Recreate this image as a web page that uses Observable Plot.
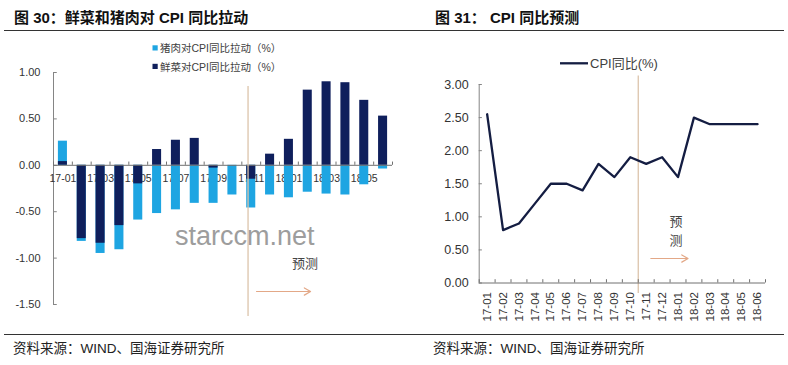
<!DOCTYPE html>
<html><head><meta charset="utf-8">
<script src="https://cdn.jsdelivr.net/npm/d3@7"></script>
<script src="https://cdn.jsdelivr.net/npm/@observablehq/plot@0.6"></script>
<style>
body{margin:0;background:#fff;}
#wrap{position:relative;width:788px;height:365px;overflow:hidden;background:#fff;font-family:"Liberation Sans","Noto Sans CJK SC",sans-serif;}
.abs{position:absolute;left:0;top:0;}
</style></head><body>
<div id="wrap"></div>
<script>
// ---- data ----
const months = ["17-01","17-02","17-03","17-04","17-05","17-06","17-07","17-08","17-09","17-10","17-11","17-12","18-01","18-02","18-03","18-04","18-05","18-06"];
const porkPull = [0.26,-0.82,-0.95,-0.91,-0.59,-0.52,-0.48,-0.41,-0.41,-0.32,-0.46,-0.32,-0.35,-0.29,-0.31,-0.32,-0.21,-0.04];
const vegPull  = [0.04,-0.79,-0.84,-0.65,-0.20,0.17,0.27,0.29,-0.03,0.00,-0.15,0.12,0.28,0.81,0.90,0.89,0.70,0.53];
const cpiYoY   = [2.55,0.8,0.9,1.2,1.5,1.5,1.4,1.8,1.6,1.9,1.8,1.9,1.6,2.5,2.4,2.4,2.4,2.4];
const yTicksLeft  = [1, 0.5, 0, -0.5, -1, -1.5];
const yTicksRight = [0, 0.5, 1, 1.5, 2, 2.5, 3];
const leftLabelMonths = ["17-01","17-03","17-05","17-07","17-09","17-11","18-01","18-03","18-05"];
const titleLeft = "图 30：鲜菜和猪肉对 CPI 同比拉动";
const titleRight = "图 31： CPI 同比预测";
const legendPork = "猪肉对CPI同比拉动（%）";
const legendVeg = "鲜菜对CPI同比拉动（%）";
const legendCpi = "CPI同比(%)";
const forecastLabel = "预测";
const sourceText = "资料来源：WIND、国海证券研究所";
const watermark = "starccm.net";

// ---- styles ----
const LIGHT = "#1ea5e2", NAVY = "#0f1f5c", LINE = "#141d42";
const AXIS = "#858585", RULE = "#dcc4ab", ARROW = "#e3a887";
const FONT = "'Liberation Sans','Noto Sans CJK SC',sans-serif";

const barData = months.map((m, i) => ({i, m, pork: porkPull[i], veg: vegPull[i]}));
const idx = months.map((m, i) => i);
const bounds = d3.range(months.length + 1).map(i => i - 0.5);
const wrap = document.getElementById("wrap");

// ---- left chart ----
const left = Plot.plot({
  width: 400, height: 330,
  marginLeft: 53, marginRight: 8, marginTop: 72, marginBottom: 26,
  x: {type: "linear", domain: [-0.5, 17.5], axis: null},
  y: {domain: [-1.5, 1], axis: null},
  style: {fontFamily: FONT, background: "transparent", overflow: "visible"},
  marks: [
    Plot.ruleX([-0.5], {y1: -1.5, y2: 1, stroke: AXIS}),
    Plot.ruleY(yTicksLeft, {x1: -0.5, x2: -0.3, stroke: AXIS}),
    Plot.axisY(yTicksLeft, {tickSize: 0, tickPadding: 13, tickFormat: d => d.toFixed(2), fontSize: 11, fill: "#333"}),
    Plot.text(leftLabelMonths, {x: d => months.indexOf(d), y: 0, text: d => d, dy: 13.5, fontSize: 10.5, fill: "#333"}),
    Plot.rect(barData, {x1: d => d.i - 0.24, x2: d => d.i + 0.24, y1: 0, y2: "pork", fill: LIGHT}),
    Plot.rect(barData, {x1: d => d.i - 0.24, x2: d => d.i + 0.24, y1: 0, y2: "veg", fill: NAVY}),
    Plot.ruleY([0], {stroke: "#707070"}),
    Plot.ruleX(bounds, {y1: 0, y2: 0.035, stroke: "#707070"}),
    Plot.ruleX([9.83], {y1: -1.63, y2: 0.85, stroke: RULE, strokeWidth: 1.3}),
    Plot.arrow([0], {x1: 10.28, y1: -1.36, x2: 13.15, y2: -1.36, stroke: ARROW, strokeWidth: 1.2, headLength: 9}),
    Plot.text([forecastLabel], {x: 12.85, y: -1.06, text: d => d, fontSize: 13, fill: "#444"})
  ]
});
left.classList.add("abs");
left.style.left = "0px";
wrap.appendChild(left);

// ---- right chart ----
const right = Plot.plot({
  width: 388, height: 330,
  marginLeft: 78.7, marginRight: 23, marginTop: 84, marginBottom: 47.5,
  x: {type: "linear", domain: [-0.5, 17.5], axis: null},
  y: {domain: [0, 3], axis: null},
  style: {fontFamily: FONT, background: "transparent", overflow: "visible"},
  marks: [
    Plot.ruleX([9.5], {y1: -0.16, y2: 3.13, stroke: RULE, strokeWidth: 1.3}),
    Plot.ruleX([-0.5], {y1: 0, y2: 3, stroke: AXIS}),
    Plot.ruleY(yTicksRight, {x1: -0.5, x2: -0.3, stroke: AXIS}),
    Plot.axisY(yTicksRight, {tickSize: 0, tickPadding: 10.5, tickFormat: d => d.toFixed(2), fontSize: 12.5, fill: "#333"}),
    Plot.ruleY([0], {stroke: "#707070"}),
    Plot.ruleX(bounds, {y1: 0, y2: 0.05, stroke: "#707070"}),
    Plot.axisX(idx, {tickFormat: i => months[i], tickRotate: -90, tickSize: 0, tickPadding: 9, fontSize: 11.5, fill: "#333"}),
    Plot.line(cpiYoY, {x: (d, i) => i, y: d => d, stroke: LINE, strokeWidth: 2.3}),
    Plot.arrow([0], {x1: 10.29, y1: 0.37, x2: 12.63, y2: 0.37, stroke: ARROW, strokeWidth: 1.2, headLength: 9}),
    Plot.text([forecastLabel[0]], {x: 11.88, y: 0.93, text: d => d, fontSize: 13, fill: "#444"}),
    Plot.text([forecastLabel[1]], {x: 11.88, y: 0.63, text: d => d, fontSize: 13, fill: "#444"})
  ]
});
right.classList.add("abs");
right.style.left = "400px";
wrap.appendChild(right);

// ---- titles, legends, footers ----
const ov = d3.select(wrap).append("svg").attr("class", "abs")
  .attr("width", 788).attr("height", 365)
  .style("font-family", FONT).style("pointer-events", "none");

ov.append("text").attr("x", 14).attr("y", 23).attr("font-size", 15).attr("font-weight", 700).attr("fill", "#111").text(titleLeft);
ov.append("text").attr("x", 435).attr("y", 23).attr("font-size", 15).attr("font-weight", 700).attr("fill", "#111").text(titleRight);
ov.append("line").attr("x1", 4).attr("x2", 784).attr("y1", 30.5).attr("y2", 30.5).attr("stroke", "#333");
ov.append("line").attr("x1", 4).attr("x2", 784).attr("y1", 334.5).attr("y2", 334.5).attr("stroke", "#333");
ov.append("text").attr("x", 13).attr("y", 353).attr("font-size", 13.5).attr("fill", "#222").text(sourceText);
ov.append("text").attr("x", 433).attr("y", 353).attr("font-size", 13.5).attr("fill", "#222").text(sourceText);

// left legend
[[legendPork, LIGHT, 48], [legendVeg, NAVY, 66.5]].forEach(([t, c, y]) => {
  ov.append("rect").attr("x", 152.5).attr("y", y - 2.7).attr("width", 5.2).attr("height", 5.2).attr("fill", c);
  ov.append("text").attr("x", 160).attr("y", y + 4).attr("font-size", 10.5).attr("fill", "#404040").text(t);
});
// right legend
ov.append("line").attr("x1", 560).attr("x2", 588).attr("y1", 63.3).attr("y2", 63.3).attr("stroke", LINE).attr("stroke-width", 2.3);
ov.append("text").attr("x", 590).attr("y", 68).attr("font-size", 13).attr("fill", "#404040").text(legendCpi);

// watermark
ov.append("text").attr("x", 175).attr("y", 245).attr("font-size", 27).attr("fill", "#9d9d9d").text(watermark);
</script>
</body></html>
